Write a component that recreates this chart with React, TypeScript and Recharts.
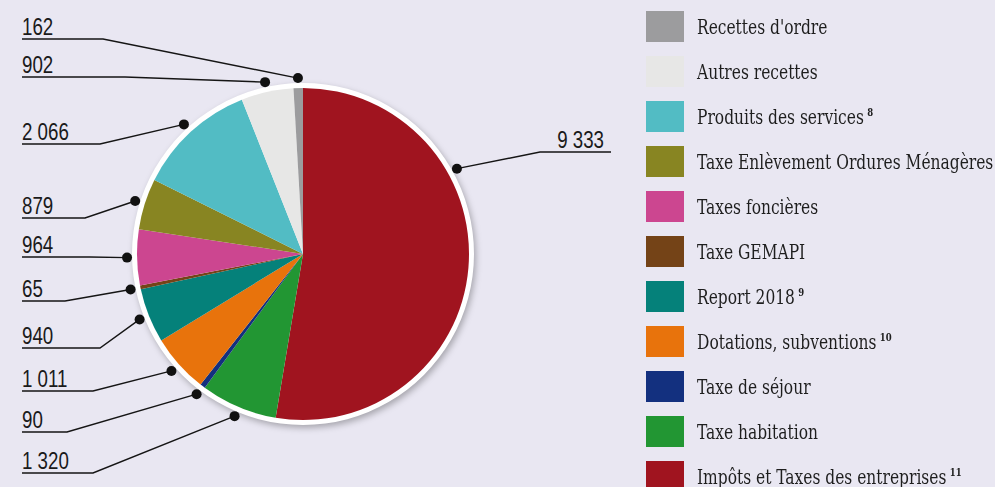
import React from 'react';
import { PieChart, Pie, Cell, Legend } from 'recharts';

// data, in drawing order (clockwise from 12 o'clock)
const categories = [
  'Impôts et Taxes des entreprises',
  'Taxe habitation',
  'Taxe de séjour',
  'Dotations, subventions',
  'Report 2018',
  'Taxe GEMAPI',
  'Taxes foncières',
  'Taxe Enlèvement Ordures Ménagères',
  'Produits des services',
  'Autres recettes',
  "Recettes d'ordre",
];
const values = [9333, 1320, 90, 1011, 940, 65, 964, 879, 2066, 902, 162];
const notes = ['11', '', '', '10', '9', '', '', '', '8', '', ''];
const colors = [
  '#a0141f', '#229633', '#13307f', '#e8730c', '#05817a', '#744317',
  '#cc4690', '#888522', '#52bcc4', '#e7e7e6', '#9c9c9e',
];

// annotation layout: underline row, bend x, optional anchor angle
const labelRows = [
  { y: 152, bend: 540, right: true, angle: 29 },
  { y: 473, bend: 93 },
  { y: 432, bend: 67 },
  { y: 391, bend: 93 },
  { y: 348, bend: 100 },
  { y: 301, bend: 65 },
  { y: 257, bend: 90 },
  { y: 218, bend: 85 },
  { y: 144, bend: 100 },
  { y: 77, bend: 125 },
  { y: 39, bend: 103 },
];

const BG = '#e9e7f2';
const RAD = Math.PI / 180;

const chartData = categories.map((name, i) => ({ name, value: values[i] }));
const ring = [{ name: 'ring', value: 1 }];

const fmt = (v: number) => String(v).replace(/\B(?=(\d{3})+(?!\d))/g, ' ');

const renderLabel = (props: any) => {
  const { cx, cy, midAngle, outerRadius, index, value } = props;
  const row = labelRows[index];
  const ang = row.angle !== undefined ? row.angle : midAngle;
  const r = outerRadius + 10;
  const dx = cx + r * Math.cos(-ang * RAD);
  const dy = cy + r * Math.sin(-ang * RAD);
  const endX = row.right ? 611 : 22;
  const d = `M${dx},${dy} L${row.bend},${row.y} L${endX},${row.y}`;
  const tx = row.right ? 604 : 22;
  return (
    <g key={`lbl-${index}`}>
      <path d={d} fill="none" stroke="#151515" strokeWidth={1.4} />
      <circle cx={dx} cy={dy} r={5} fill="#111" />
      <text
        transform={`translate(${tx},${row.y - 4}) scale(0.78,1)`}
        textAnchor={row.right ? 'end' : 'start'}
        fontFamily="'Liberation Sans', Arial, sans-serif"
        fontSize={24}
        fill="#1a1a1a"
      >
        {fmt(value)}
      </text>
    </g>
  );
};

// legend listed bottom-up relative to the slice order
const renderLegend = () => {
  const order = categories.map((_, i) => i).reverse();
  return (
    <div>
      {order.map((idx) => (
        <div key={categories[idx]} style={{ display: 'flex', alignItems: 'center', height: 45 }}>
          <div style={{ width: 38, height: 31, background: colors[idx], flex: 'none' }} />
          <span
            style={{
              marginLeft: 13,
              fontFamily: "'DejaVu Serif Condensed', 'DejaVu Serif', serif",
              fontSize: 20,
              color: '#1e1e1e',
              whiteSpace: 'nowrap',
              display: 'inline-block',
              transform: 'scaleX(0.86)',
              transformOrigin: 'left center',
            }}
          >
            {categories[idx]}
            {notes[idx] ? (
              <sup style={{ fontSize: 11, fontWeight: 'bold', marginLeft: 4 }}>{notes[idx]}</sup>
            ) : null}
          </span>
        </div>
      ))}
    </div>
  );
};

export default function App() {
  return (
    <div style={{ position: 'absolute', left: 0, top: 0, width: 995, height: 487, background: BG, overflow: 'hidden' }}>
      <style>{`.ring path { filter: drop-shadow(2px 3px 3px rgba(0,0,0,0.28)); }`}</style>
      <PieChart width={995} height={487} margin={{ top: 0, right: 0, bottom: 0, left: 0 }}>
        <Pie
          data={ring}
          dataKey="value"
          cx={303}
          cy={254}
          outerRadius={171}
          startAngle={90}
          endAngle={-270}
          fill="#ffffff"
          stroke="none"
          legendType="none"
          className="ring"
          isAnimationActive={false}
        />
        <Pie
          data={chartData}
          dataKey="value"
          nameKey="name"
          cx={303}
          cy={254}
          outerRadius={166}
          startAngle={90}
          endAngle={-270}
          stroke="none"
          label={renderLabel}
          labelLine={false}
          isAnimationActive={false}
        >
          {chartData.map((d, i) => (
            <Cell key={d.name} fill={colors[i]} />
          ))}
        </Pie>
        <Legend
          layout="vertical"
          align="right"
          verticalAlign="top"
          content={renderLegend}
          wrapperStyle={{ left: 646, top: 4, width: 349 }}
        />
      </PieChart>
    </div>
  );
}
